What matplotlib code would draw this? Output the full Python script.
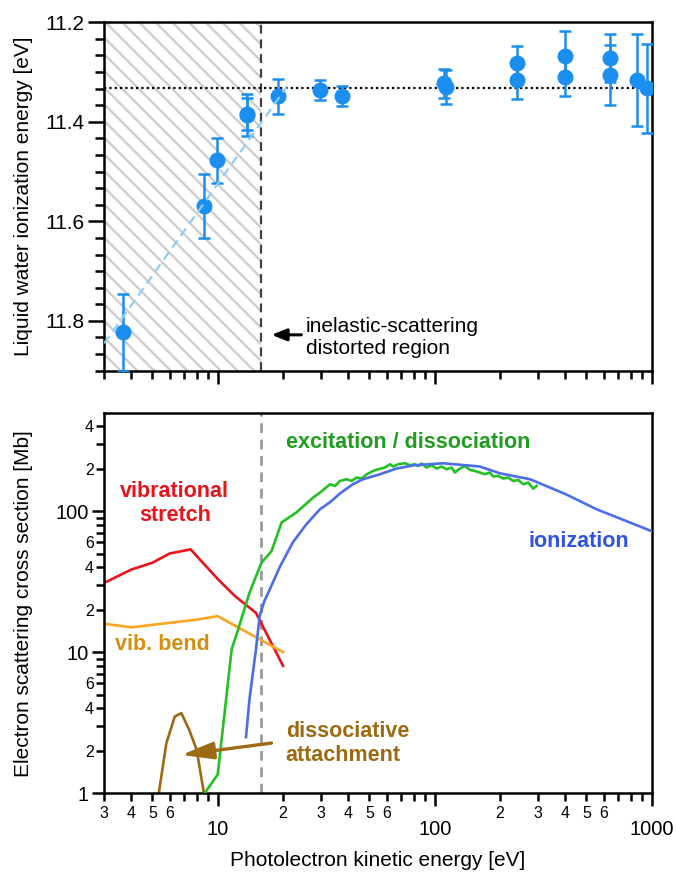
import numpy as np
import matplotlib
matplotlib.use("Agg")
import matplotlib.pyplot as plt
from matplotlib.ticker import LogLocator, FuncFormatter, MultipleLocator, NullFormatter

plt.rcParams["font.family"] = ["Liberation Sans", "DejaVu Sans"]
plt.rcParams["hatch.linewidth"] = 1.6
plt.rcParams["hatch.color"] = "#cccccc"

# ====================== data: top panel (ionization energy) ======================
ke_pts = [3.67, 8.67, 9.89, 13.6, 13.6, 19.0, 29.6, 37.3, 110, 113, 240, 240, 398, 398, 642, 642, 852, 948]
ie_pts = [11.823, 11.569, 11.477, 11.384, 11.386, 11.349, 11.336, 11.349, 11.323, 11.330,
          11.282, 11.317, 11.268, 11.309, 11.272, 11.306, 11.316, 11.333]
ie_err = [0.077, 0.065, 0.045, 0.032, 0.042, 0.036, 0.020, 0.020, 0.030, 0.035,
          0.035, 0.037, 0.050, 0.040, 0.048, 0.060, 0.092, 0.090]

fit_x = [3.0, 20.7]
fit_y = [11.845, 11.331]
ie_mean = 11.333
cutoff_ke = 15.9

# ====================== data: bottom panel (cross sections) ======================
stretch_x = [3, 4, 5, 6, 7.5, 10, 12, 15, 20]
stretch_y = [31, 38.5, 43, 50, 53.5, 33, 25, 19, 8]

bend_x = [3, 4, 8, 10, 20]
bend_y = [15.9, 15.0, 17.0, 18.0, 10.0]

attach_x = [5.35, 5.8, 6.34, 6.8, 7.4, 8.0, 8.64]
attach_y = [1.0, 2.27, 3.5, 3.7, 2.8, 2.03, 1.0]

ion_x = [13.5, 14.0, 14.5, 15.0, 15.6, 16.4, 17.4, 19.4, 22.2, 25.6, 29.6, 32.8, 37.0, 42, 46.7,
         55.8, 66.6, 80, 109, 161, 200, 275, 400, 557, 1000]
ion_y = [2.5, 4.6, 7.0, 10.4, 18, 23, 28, 40.7, 60, 80.5, 103, 115, 135, 155, 168,
         182, 200, 211, 218, 207, 185, 168, 132, 103, 72]

exc_x = [8.7, 10.0, 11.6, 12.4, 14.0, 15.9, 17.7, 19.7, 23.0, 27.5,
         29.6, 32.9, 34.7, 36.6, 39.3, 41.4, 43.7, 46.1, 48.6, 52.1, 54.9, 59.0, 62.2, 64.4,
         67.9, 72.9, 76.9, 81.1, 84.0, 87.1, 91.8, 96.8, 102.1, 107.6, 113.5, 119.7, 124.0,
         130.7, 137.8, 145.3, 153.2, 161.6, 170.4, 179.7, 186.1, 196.2, 206.9, 218.2, 230.1,
         242.6, 255.8, 269.8, 284.5, 294.9]
exc_y = [1.0, 1.36, 10.5, 14.4, 26.3, 43, 52, 83, 97.5, 124.5,
         135.1, 154.7, 150.5, 163.4, 168.0, 163.4, 172.7, 169.9, 182.3, 192.4, 197.8, 203.3, 214.6, 206.7,
         214.6, 218.2, 211.1, 214.6, 208.7, 217.1, 203.3, 211.1, 200.1, 206.7, 197.8, 203.3, 187.4,
         200.1, 208.7, 195.6, 192.4, 187.4, 182.3, 187.4, 175.5, 177.3, 169.9, 172.7, 163.4,
         166.1, 154.7, 159.1, 144.2, 150.5]

# ====================== colours ======================
c_pts = "#1b8ff0"
c_fit = "#8ccff2"
c_red = "#e8131b"
c_orange_line = "#fca520"
c_orange_txt = "#d38f10"
c_green_line = "#22c022"
c_green_txt = "#1f9d1f"
c_blue_line = "#4a6ee8"
c_blue_txt = "#2f55e0"
c_brown = "#9c6a12"


def minor_fmt(keep):
    def f(v, pos):
        m = int(round(v / 10 ** np.floor(np.log10(v) + 1e-9)))
        return str(m) if m in keep else ""
    return FuncFormatter(f)


def style_spines(ax):
    for s in ax.spines.values():
        s.set_linewidth(1.8)


fig = plt.figure(figsize=(6.77, 8.73), dpi=100)
ax1 = fig.add_axes([0.154, 0.5754, 0.8086, 0.3991])
ax2 = fig.add_axes([0.154, 0.0913, 0.8086, 0.4356])

# ====================== top panel ======================
ax1.set_xscale("log")
ax1.set_xlim(3, 1000)
ax1.set_ylim(11.9, 11.2)

ax1.axvspan(3, cutoff_ke, facecolor="none", edgecolor="#cccccc", hatch="\\\\", linewidth=0, zorder=0)
ax1.axvline(cutoff_ke, color="#404040", linestyle=(0, (4, 2.6)), linewidth=1.6, zorder=1)
ax1.axhline(ie_mean, color="black", linestyle=(0, (1, 1.4)), linewidth=1.6, zorder=1)

ax1.errorbar(ke_pts, ie_pts, yerr=ie_err, fmt="o", color=c_pts, ms=10.5,
             elinewidth=1.8, capsize=4, capthick=1.8, zorder=3)
ax1.plot(fit_x, fit_y, color=c_fit, linestyle=(0, (4, 2.6)), linewidth=1.6, zorder=4)

ax1.annotate("", xy=(17.7, 11.828), xytext=(24.3, 11.828),
             arrowprops=dict(arrowstyle="-|>,head_length=0.9,head_width=0.36",
                             color="black", lw=2.2, mutation_scale=10,
                             shrinkA=0, shrinkB=0))
ax1.text(25.5, 11.834, "inelastic-scattering\ndistorted region", fontsize=15,
         ha="left", va="center", linespacing=1.2)

ax1.yaxis.set_major_locator(MultipleLocator(0.2))
ax1.yaxis.set_minor_locator(MultipleLocator(0.2 / 6))
ax1.xaxis.set_major_locator(LogLocator(base=10))
ax1.xaxis.set_minor_locator(LogLocator(base=10, subs=np.arange(2, 10)))
ax1.xaxis.set_major_formatter(NullFormatter())
ax1.xaxis.set_minor_formatter(NullFormatter())
ax1.tick_params(axis="y", which="major", length=11.5, width=1.8, labelsize=15, pad=3)
ax1.tick_params(axis="y", which="minor", length=6.5, width=1.8)
ax1.tick_params(axis="x", which="major", length=9, width=1.8)
ax1.tick_params(axis="x", which="minor", length=5.5, width=1.8)
ax1.set_ylabel("Liquid water ionization energy [eV]", fontsize=15)
ax1.yaxis.set_label_coords(-0.13, 0.5)
style_spines(ax1)

# ====================== bottom panel ======================
ax2.set_xscale("log")
ax2.set_yscale("log")
ax2.set_xlim(3, 1000)
ax2.set_ylim(1, 495)

ax2.axvline(cutoff_ke, color="#9a9a9a", linestyle=(0, (3.5, 2.4)), linewidth=2.0, zorder=1)

ax2.plot(stretch_x, stretch_y, color=c_red, linewidth=1.9, zorder=2)
ax2.plot(bend_x, bend_y, color=c_orange_line, linewidth=1.9, zorder=2)
ax2.plot(attach_x, attach_y, color=c_brown, linewidth=1.9, zorder=2)
ax2.plot(exc_x, exc_y, color=c_green_line, linewidth=1.9, zorder=3)
ax2.plot(ion_x, ion_y, color=c_blue_line, linewidth=1.9, zorder=3)

ax2.text(6.34, 113, "vibrational\nstretch", color=c_red, fontsize=15.5, fontweight="bold",
         ha="center", va="center", linespacing=1.2)
ax2.text(3.36, 11.3, "vib. bend", color=c_orange_txt, fontsize=15.5, fontweight="bold",
         ha="left", va="center")
ax2.text(20.6, 307, "excitation / dissociation", color=c_green_txt, fontsize=15.5,
         fontweight="bold", ha="left", va="center")
ax2.text(270, 61, "ionization", color=c_blue_txt, fontsize=15.5, fontweight="bold",
         ha="left", va="center")
ax2.text(20.6, 2.24, "dissociative\nattachment", color=c_brown, fontsize=15.5,
         fontweight="bold", ha="left", va="center", linespacing=1.2)
ax2.annotate("", xy=(6.8, 1.87), xytext=(17.7, 2.27),
             arrowprops=dict(arrowstyle="-|>,head_length=0.97,head_width=0.26",
                             color=c_brown, lw=2.4, mutation_scale=20,
                             shrinkA=0, shrinkB=0))

ax2.xaxis.set_major_locator(LogLocator(base=10))
ax2.xaxis.set_minor_locator(LogLocator(base=10, subs=np.arange(2, 10)))
ax2.xaxis.set_major_formatter(FuncFormatter(lambda v, p: f"{v:g}"))
ax2.xaxis.set_minor_formatter(minor_fmt((2, 3, 4, 5, 6)))
ax2.yaxis.set_major_locator(LogLocator(base=10))
ax2.yaxis.set_minor_locator(LogLocator(base=10, subs=np.arange(2, 10)))
ax2.yaxis.set_major_formatter(FuncFormatter(lambda v, p: f"{v:g}"))
ax2.yaxis.set_minor_formatter(minor_fmt((2, 4, 6)))

ax2.tick_params(axis="both", which="major", length=9, width=1.8, labelsize=14.5)
ax2.tick_params(axis="both", which="minor", length=5.5, width=1.8, labelsize=11.5)
ax2.tick_params(axis="x", which="major", pad=10)
ax2.tick_params(axis="x", which="minor", pad=3.5)
ax2.tick_params(axis="y", which="major", pad=2)
ax2.tick_params(axis="y", which="minor", pad=2)
ax2.set_ylabel("Electron scattering cross section [Mb]", fontsize=15)
ax2.yaxis.set_label_coords(-0.13, 0.5)
ax2.set_xlabel("Photolectron kinetic energy [eV]", fontsize=15, labelpad=9)
style_spines(ax2)

fig.savefig("out.png", dpi=100)
